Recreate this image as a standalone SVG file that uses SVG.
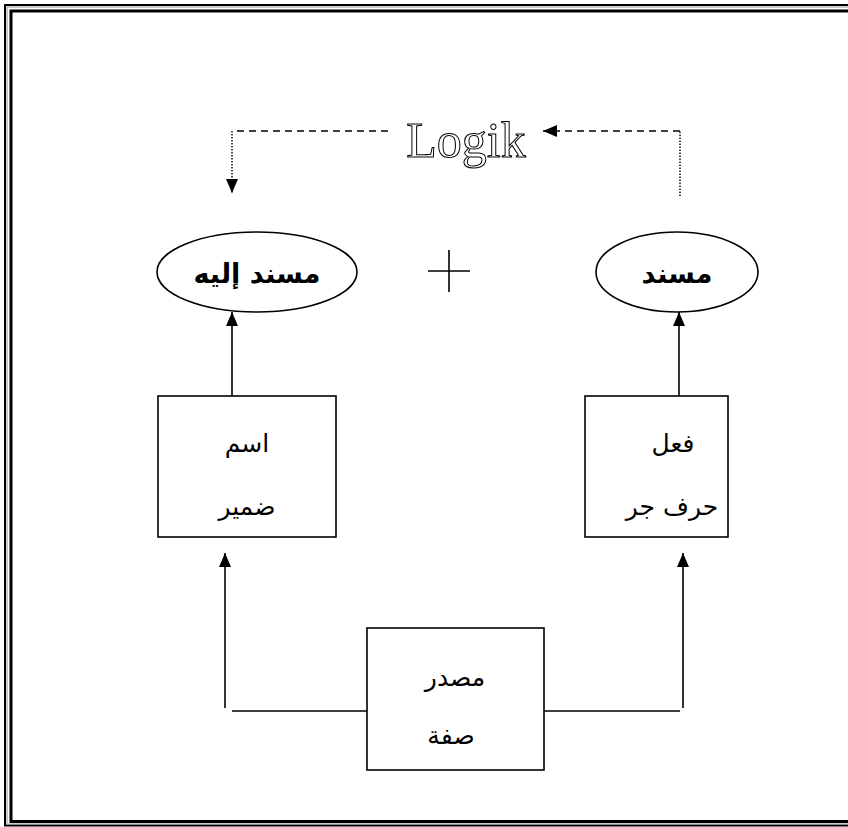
<svg xmlns="http://www.w3.org/2000/svg" width="848" height="827" viewBox="0 0 848 827">
<defs>
<marker id="arr" viewBox="0 0 14 12" refX="14" refY="6" markerWidth="14" markerHeight="12" markerUnits="userSpaceOnUse" orient="auto">
<path d="M0,0 L14,6 L0,12 Z" fill="#000"/>
</marker>
</defs>
<style>
.frame{fill:none;stroke:#000}
.shape{fill:#fff;stroke:#000;stroke-width:1.6}
.line{fill:none;stroke:#000;stroke-width:1.6}
.dash{fill:none;stroke:#000;stroke-width:1.6;stroke-dasharray:7 5}
.dot{fill:none;stroke:#000;stroke-width:1.4;stroke-dasharray:1.5 1.5}
.bold{font-family:"DejaVu Sans",sans-serif;font-weight:bold;font-size:27px;text-anchor:middle}
.ar{font-family:"DejaVu Sans",sans-serif;font-size:25px;text-anchor:middle}
.logik{font-family:"Liberation Serif",serif;font-size:50px;fill:#fff;stroke:#000;stroke-width:1;text-anchor:middle}
</style>
<rect width="848" height="827" fill="#fff"/>
<g id="frame">
<rect class="frame" x="5" y="5" width="860" height="820.5" stroke-width="2"/>
<rect x="7" y="7" width="860" height="817" fill="none" stroke="#999" stroke-width="1"/>
<rect class="frame" x="11" y="11" width="860" height="810.5" stroke-width="3"/>
</g>
<g id="connectors">
<path class="dash" d="M388,131 H232"/>
<path class="dot" d="M232,131 V193" marker-end="url(#arr)"/>
<path class="dot" d="M680,196 V131"/>
<path class="dash" d="M680,131 H543" marker-end="url(#arr)"/>
<path class="line" d="M232,396 V312" marker-end="url(#arr)"/>
<path class="line" d="M679,396 V312" marker-end="url(#arr)"/>
<path class="line" d="M225,708 V553" marker-end="url(#arr)"/>
<path class="line" d="M683,708 V553" marker-end="url(#arr)"/>
<path class="line" d="M232,711 H367"/>
<path class="line" d="M544,711 H680"/>
</g>
<g id="logik"><text class="logik" x="466" y="157">Logik</text></g>
<g id="plus"><path class="line" d="M428,271 H470 M449,250 V292"/></g>
<g id="musnad-ilaih">
<ellipse class="shape" cx="257" cy="272" rx="100" ry="40"/>
<text class="bold" x="257" y="283">مسند إليه</text>
</g>
<g id="musnad">
<ellipse class="shape" cx="677" cy="272" rx="81" ry="40"/>
<text class="bold" x="677" y="283">مسند</text>
</g>
<g id="box-ism">
<rect class="shape" x="158" y="396" width="178" height="141"/>
<text class="ar" x="247" y="452">اسم</text>
<text class="ar" x="247" y="515">ضمير</text>
</g>
<g id="box-fiil">
<rect class="shape" x="585" y="396" width="143" height="141"/>
<text class="ar" x="673" y="452">فعل</text>
<text class="ar" x="672" y="515">حرف جر</text>
</g>
<g id="box-masdar">
<rect class="shape" x="367" y="628" width="177" height="142"/>
<text class="ar" x="455" y="686">مصدر</text>
<text class="ar" x="451" y="744">صفة</text>
</g>
</svg>
